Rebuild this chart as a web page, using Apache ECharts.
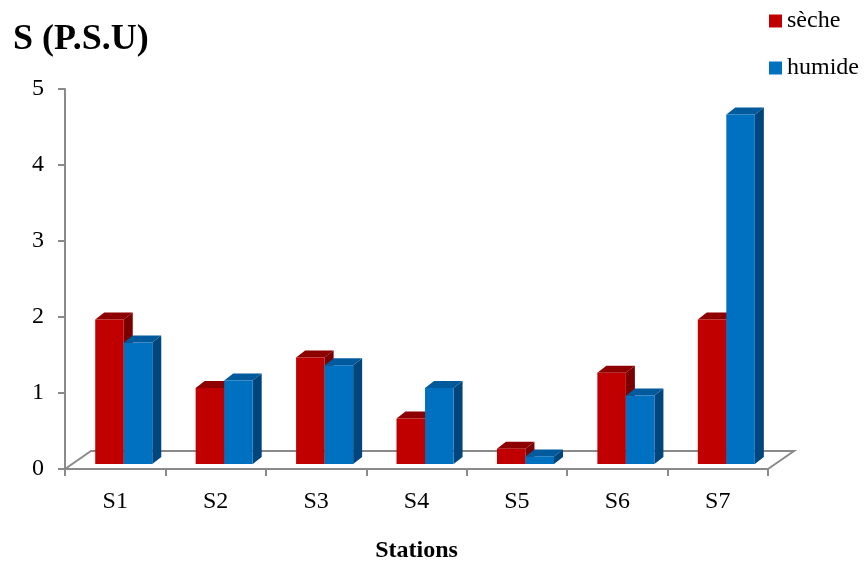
<!DOCTYPE html>
<html>
<head>
<meta charset="utf-8">
<script src="https://cdn.jsdelivr.net/npm/echarts@6/dist/echarts.min.js"></script>
<style>html,body{margin:0;padding:0;background:#fff}#c{width:864px;height:565px}</style>
</head>
<body>
<div id="c"></div>
<script>
var categories = ['S1', 'S2', 'S3', 'S4', 'S5', 'S6', 'S7'];
var seche = [1.9, 1.0, 1.4, 0.6, 0.2, 1.2, 1.9];
var humide = [1.6, 1.1, 1.3, 1.0, 0.1, 0.9, 4.6];
var yTicks = [0, 1, 2, 3, 4, 5];

var FONT = '"Liberation Serif", "Times New Roman", serif';
var DX = 9, DY = 7, LIFT = 5;

function bar3d(offsetFrac, front, topC, sideC) {
  return function (params, api) {
    var ci = api.value(0), v = api.value(1);
    var p = api.coord([ci, v]);
    var p0 = api.coord([ci, 0]);
    var band = api.size([1, 0])[0];
    var w = band * 0.284;
    var x0 = p[0] + offsetFrac * band;
    var top = p[1] - LIFT, base = p0[1] - LIFT;
    return {
      type: 'group',
      children: [
        { type: 'polygon', shape: { points: [[x0 + w, top], [x0 + w + DX, top - DY], [x0 + w + DX, base - DY], [x0 + w, base]] }, style: { fill: sideC } },
        { type: 'polygon', shape: { points: [[x0, top], [x0 + w, top], [x0 + w + DX, top - DY], [x0 + DX, top - DY]] }, style: { fill: topC } },
        { type: 'rect', shape: { x: x0, y: top, width: w, height: base - top }, style: { fill: front } }
      ]
    };
  };
}

function floorRender(params, api) {
  var cs = params.coordSys;
  var bx = cs.x, by = cs.y + cs.height, W = cs.width;
  var fdx = 26, fdy = 18;
  var st = { stroke: '#8a8a8a', lineWidth: 2, fill: null };
  return {
    type: 'group',
    children: [
      { type: 'polyline', shape: { points: [[bx, by], [bx + fdx, by - fdy], [bx + W + fdx, by - fdy], [bx + W, by]] }, style: st }
    ]
  };
}

var chart = echarts.init(document.getElementById('c'), null, { renderer: 'canvas' });
chart.setOption({
  animation: false,
  backgroundColor: '#ffffff',
  title: {
    text: 'S (P.S.U)', left: 8, top: 17,
    textStyle: { fontFamily: FONT, fontSize: 36, fontWeight: 'bold', color: '#000' }
  },
  legend: {
    orient: 'vertical', right: 0, top: 4, itemGap: 23,
    itemWidth: 13, itemHeight: 13, icon: 'rect',
    data: [{ name: 'sèche', itemStyle: { color: '#C00000' } }, { name: 'humide', itemStyle: { color: '#0070C0' } }],
    textStyle: { fontFamily: FONT, fontSize: 24, color: '#000' }
  },
  grid: { left: 65, right: 96, top: 89, bottom: 96, outerBoundsMode: 'none', containLabel: false },
  xAxis: {
    type: 'category', data: categories, boundaryGap: true,
    name: 'Stations', nameLocation: 'middle', nameGap: 70,
    nameTextStyle: { fontFamily: FONT, fontSize: 24, fontWeight: 'bold', color: '#000' },
    axisLine: { lineStyle: { color: '#8a8a8a', width: 2 } },
    axisTick: { show: true, length: 7, alignWithLabel: false, lineStyle: { color: '#8a8a8a', width: 2 } },
    axisLabel: { fontFamily: FONT, fontSize: 24, color: '#000', margin: 21 }
  },
  yAxis: {
    type: 'value', min: yTicks[0], max: yTicks[yTicks.length - 1], interval: 1,
    axisLine: { show: true, lineStyle: { color: '#8a8a8a', width: 2 } },
    axisTick: { show: true, length: 7, lineStyle: { color: '#8a8a8a', width: 2 } },
    splitLine: { show: false },
    axisLabel: { fontFamily: FONT, fontSize: 24, color: '#000', margin: 21 }
  },
  series: [
    { type: 'custom', name: 'floor', silent: true, renderItem: floorRender, data: [[0, 0]], z: 1 },
    {
      type: 'custom', name: 'sèche', itemStyle: { color: '#C00000' }, z: 2,
      renderItem: bar3d(-0.199, '#C00000', '#8E0000', '#7A0000'),
      data: seche.map(function (v, i) { return [i, v]; })
    },
    {
      type: 'custom', name: 'humide', itemStyle: { color: '#0070C0' }, z: 3,
      renderItem: bar3d(0.085, '#0070C0', '#005A9C', '#00467D'),
      data: humide.map(function (v, i) { return [i, v]; })
    }
  ]
});
</script>
</body>
</html>
